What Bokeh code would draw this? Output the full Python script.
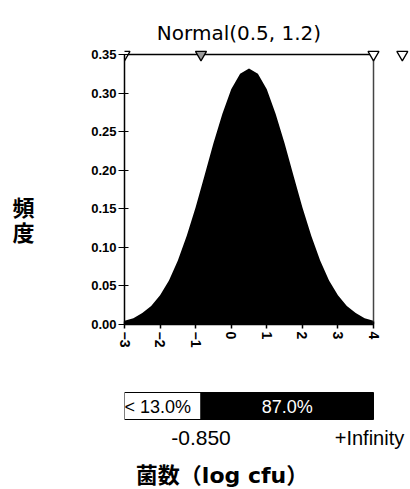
from bokeh.plotting import figure
from bokeh.models import Range1d, FixedTicker
from bokeh.layouts import column, row
from bokeh.core.properties import value
from bokeh.embed import file_html
from bokeh.resources import INLINE

# ---- data ----
x_values = [-3.0, -2.75, -2.5, -2.25, -2.0, -1.75, -1.5, -1.25, -1.0, -0.75,
            -0.5, -0.25, 0.0, 0.25, 0.5, 0.75, 1.0, 1.25, 1.5, 1.75,
            2.0, 2.25, 2.5, 2.75, 3.0, 3.25, 3.5, 3.75, 4.0]
density = [0.005, 0.008, 0.015, 0.024, 0.038, 0.057, 0.083, 0.115, 0.152, 0.193,
           0.235, 0.273, 0.305, 0.325, 0.332, 0.325, 0.305, 0.273, 0.235, 0.193,
           0.152, 0.115, 0.083, 0.057, 0.038, 0.024, 0.015, 0.008, 0.005]
x_ticks = [-3, -2, -1, 0, 1, 2, 3, 4]
y_ticks = [0.0, 0.05, 0.10, 0.15, 0.20, 0.25, 0.30, 0.35]
y_tick_labels = ["0.00", "0.05", "0.10", "0.15", "0.20", "0.25", "0.30", "0.35"]
title_text = "Normal(0.5, 1.2)"
title_center = 0.5
y_label = "頻度"
x_label = "菌数（log cfu）"
marker_x = [-3.0, -0.85, 4.0, 4.81]
marker_fill = ["white", "#9a9a9a", "white", "white"]
split_value = -0.85
pct_left = 13.0
pct_right = 87.0
bound_labels = ["-0.850", "+Infinity"]

LATIN = "Liberation Sans"
WIDE = "DejaVu Sans"
CJK = "Noto Sans CJK JP"
MIXED = "DejaVu Sans, Noto Sans CJK JP"

LEFT_W = 60
W = 410 - LEFT_W
BORDER_L = 124 - LEFT_W
H_MAIN = 360
H_BOT = 489 - H_MAIN

x_range = Range1d(-3, 5.04)

# ---- left strip: vertical y label ----
pl = figure(width=LEFT_W, height=489, x_range=Range1d(0, LEFT_W), y_range=Range1d(489, 0),
            output_backend="svg", toolbar_location=None,
            min_border=0, x_axis_location=None, y_axis_location=None)
pl.outline_line_color = None
pl.grid.visible = False
chars = list(y_label)
pl.text(x=[23] * len(chars), y=[217.5 + (i - (len(chars) - 1) / 2) * 25 for i in range(len(chars))],
        text=chars, text_align="center", text_baseline="middle",
        text_font=value(CJK), text_font_style="bold", text_font_size="22px",
        text_color="black")

# ---- main density plot ----
p = figure(width=W, height=H_MAIN, x_range=x_range, y_range=Range1d(0, 0.42),
           output_backend="svg", toolbar_location=None,
           min_border_left=BORDER_L, min_border_right=0,
           min_border_top=0, min_border_bottom=36)
p.outline_line_color = None
p.grid.visible = False

p.varea(x=x_values, y1=0, y2=density, color="black")
p.line(x=[x_ticks[0], x_ticks[-1]], y=[y_ticks[-1], y_ticks[-1]],
       line_color="black", line_width=1.5)
p.segment(x0=[x_ticks[-1]], y0=[y_ticks[0]], x1=[x_ticks[-1]], y1=[y_ticks[-1]],
          line_color="#444444", line_width=1.5)
p.scatter(x=marker_x, y=[y_ticks[-1]] * len(marker_x), marker="inverted_triangle",
          size=11, fill_color=marker_fill, line_color="black", line_width=1.3)
p.text(x=[title_center], y=[y_ticks[-1]], text=[title_text], x_offset=-10, y_offset=-22,
       text_align="center", text_baseline="alphabetic", text_font=value(WIDE),
       text_font_size="20px", text_color="black")

xa = p.xaxis[0]
xa.ticker = FixedTicker(ticks=x_ticks)
xa.bounds = (x_ticks[0], x_ticks[-1])
xa.major_label_orientation = "vertical"
xa.minor_tick_line_color = None
xa.major_tick_in = 3
xa.major_tick_out = 4
xa.axis_line_width = 1.5
xa.major_tick_line_width = 1.5
xa.major_label_standoff = 3
xa.major_label_text_font = LATIN
xa.major_label_text_font_style = "bold"
xa.major_label_text_font_size = "14px"
xa.major_label_text_color = "black"

ya = p.yaxis[0]
ya.ticker = FixedTicker(ticks=y_ticks)
ya.major_label_overrides = dict(zip(y_ticks, y_tick_labels))
ya.bounds = (y_ticks[0], y_ticks[-1])
ya.minor_tick_line_color = None
ya.major_tick_in = 4
ya.major_tick_out = 6
ya.axis_line_width = 1.5
ya.major_tick_line_width = 1.2
ya.major_label_standoff = 2
ya.major_label_text_font = LATIN
ya.major_label_text_font_style = "bold"
ya.major_label_text_font_size = "13px"
ya.major_label_text_color = "black"

# ---- bottom strip with the percentile bar ----
p2 = figure(width=W, height=H_BOT, x_range=x_range, y_range=Range1d(H_BOT, 0),
            output_backend="svg", toolbar_location=None,
            min_border_left=BORDER_L, min_border_right=0,
            min_border_top=0, min_border_bottom=0,
            x_axis_location=None, y_axis_location=None)
p2.outline_line_color = None
p2.grid.visible = False

p2.quad(left=[x_ticks[0], split_value], right=[split_value, x_ticks[-1]],
        top=[32, 32], bottom=[59, 59], fill_color=["white", "black"],
        line_color="black", line_width=1)
p2.text(x=[x_ticks[0]], y=[46], text=[f"< {pct_left:.1f}%"], x_offset=0,
        text_align="left", text_baseline="middle", text_font=value(LATIN),
        text_font_size="18px", text_color="black")
p2.text(x=[(split_value + x_ticks[-1]) / 2], y=[46], text=[f"{pct_right:.1f}%"],
        text_align="center", text_baseline="middle", text_font=value(LATIN),
        text_font_size="18px", text_color="white")
p2.text(x=[split_value], y=[77.5], text=[bound_labels[0]],
        text_align="center", text_baseline="middle", text_font=value(LATIN),
        text_font_size="21px", text_color="black")
p2.text(x=[x_ticks[-1]], y=[77.5], text=[bound_labels[1]], x_offset=-4,
        text_align="center", text_baseline="middle", text_font=value(LATIN),
        text_font_size="20px", text_color="black")
p2.text(x=[title_center], y=[115], text=[x_label], x_offset=-27,
        text_align="center", text_baseline="middle", text_font=value(MIXED),
        text_font_style="bold", text_font_size="22px", text_color="black")

layout = row(pl, column(p, p2))
open("out.html", "w").write(file_html(layout, INLINE))
